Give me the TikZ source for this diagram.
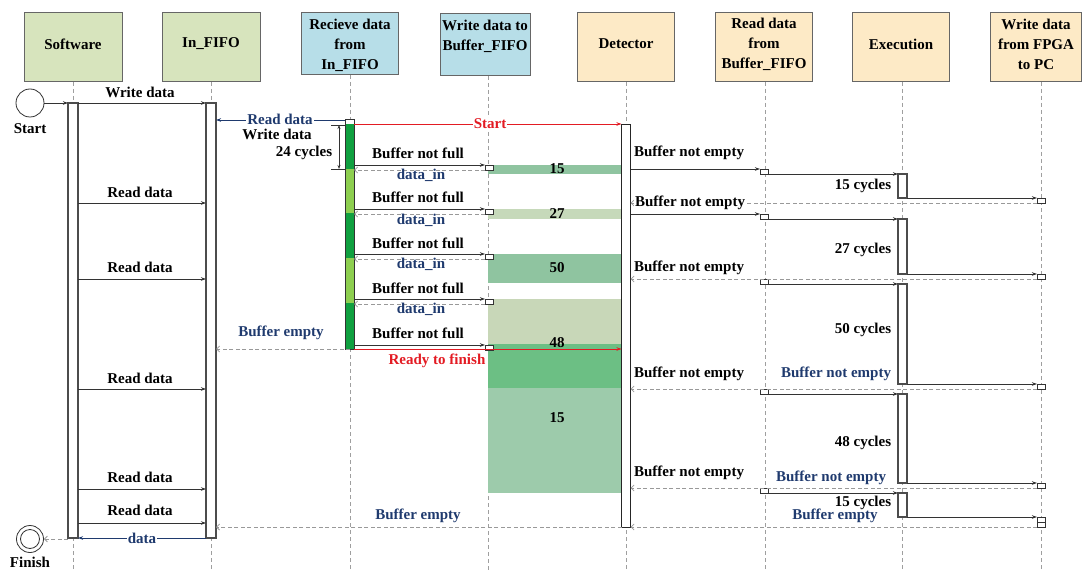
\documentclass[tikz,border=0pt]{standalone}
\usepackage{fontspec}
\setmainfont{Liberation Serif}
\usetikzlibrary{arrows.meta}
\definecolor{hgreen}{HTML}{D7E4BD}
\definecolor{hblue}{HTML}{B7DEE8}
\definecolor{htan}{HTML}{FDEAC6}
\definecolor{navy}{HTML}{1F3A6E}
\definecolor{sred}{HTML}{E31B23}
\definecolor{gdark}{HTML}{10A040}
\definecolor{glight}{HTML}{8ECF50}
\definecolor{bandA}{HTML}{8FC4A0}
\definecolor{bandB}{HTML}{C6D9BA}
\definecolor{bandC}{HTML}{C8D7B8}
\definecolor{bandD}{HTML}{6CBF84}
\definecolor{bandE}{HTML}{9DCBAB}
\begin{document}
\begin{tikzpicture}[x=1pt,y=-1pt,
  every node/.style={font=\fontsize{15}{20}\selectfont\bfseries},
  hdr/.style={draw=black!60, line width=1pt, inner sep=0pt, outer sep=0pt},
  htxt/.style={align=center, inner sep=0pt},
  life/.style={draw=gray!75, line width=0.7pt, dash pattern=on 4pt off 3pt},
  bar/.style={draw=gray!60!black, line width=1.1pt, fill=white, inner sep=0pt, outer sep=0pt, minimum width=9pt},
  msg/.style={draw=black!80, line width=0.8pt, -{Stealth[length=5pt,width=3.5pt]}},
  ret/.style={draw=gray!80, line width=0.8pt, dash pattern=on 4pt off 2.5pt, -{Straight Barb[length=3pt,width=6pt]}},
  lbl/.style={fill=white, inner sep=1pt},
  txt/.style={inner sep=1pt},
  sq/.style={draw=black!80, fill=white, line width=0.7pt, minimum width=8pt, minimum height=5pt, inner sep=0pt, outer sep=0pt},
]
\useasboundingbox (0,0) rectangle (1083,572);

% ---------- headers ----------
\node[hdr, fill=hgreen, minimum width=98pt, minimum height=69pt] (hSW) at (73,47.5) {};
\node[htxt] at (73,44) {Software};
\node[hdr, fill=hgreen, minimum width=98pt, minimum height=69pt] (hIF) at (211,47.5) {};
\node[htxt] at (211,44) {In\_FIFO};
\node[hdr, fill=hblue, minimum width=97pt, minimum height=62pt] (hRD) at (350,44) {};
\node[htxt] at (350,45) {Recieve data\\from\\In\_FIFO};
\node[hdr, fill=hblue, minimum width=90pt, minimum height=62pt] (hWB) at (485,45) {};
\node[htxt] at (485,36) {Write data to\\Buffer\_FIFO};
\node[hdr, fill=htan, minimum width=97pt, minimum height=69pt] (hDT) at (626,47.5) {};
\node[htxt] at (626,44) {Detector};
\node[hdr, fill=htan, minimum width=97pt, minimum height=69pt] (hRB) at (764,47.5) {};
\node[htxt] at (764,44) {Read data\\from\\Buffer\_FIFO};
\node[hdr, fill=htan, minimum width=97pt, minimum height=69pt] (hEX) at (901,47.5) {};
\node[htxt] at (901,44) {Execution};
\node[hdr, fill=htan, minimum width=91pt, minimum height=69pt] (hPC) at (1036,47.5) {};
\node[htxt] at (1036,44) {Write data\\from FPGA\\to PC};

% ---------- lifelines ----------
\coordinate (lSW) at (73,0);
\coordinate (lIF) at (211,0);
\coordinate (lRD) at (350,0);
\coordinate (lWB) at (488,0);
\coordinate (lDT) at (626,0);
\coordinate (lRB) at (765,0);
\coordinate (lEX) at (902,0);
\coordinate (lPC) at (1041,0);
\foreach \h/\l in {hSW/lSW,hIF/lIF,hRD/lRD,hWB/lWB,hDT/lDT,hRB/lRB,hEX/lEX,hPC/lPC}
  \draw[life] (\h.south -| \l) -- (\l |- 0,572);

% ---------- buffer bands ----------
\fill[bandA] (488,165) rectangle (622,174);
\fill[bandB] (488,209) rectangle (622,219);
\fill[bandA] (488,254) rectangle (622,283);
\fill[bandC] (488,299) rectangle (622,344);
\fill[bandD] (488,344) rectangle (622,388);
\fill[bandE] (488,388) rectangle (622,493);
\node[txt] at (557,169) {15};
\node[txt] at (557,214) {27};
\node[txt] at (557,268) {50};
\node[txt] at (557,343) {48};
\node[txt] at (557,418) {15};

% ---------- activation bars ----------
\node[bar, minimum width=10pt, minimum height=435pt, anchor=north] (bSW) at (73,103) {};
\node[bar, minimum width=10pt, minimum height=435pt, anchor=north] (bIF) at (211,103) {};
\node[bar, draw=black!85, line width=0.7pt, minimum height=403pt, anchor=north] (bDT) at (626,124) {};
\node[bar, draw=black!80, line width=0.7pt, minimum height=230pt, anchor=north] (bRD) at (349.5,119) {};
\fill[gdark]  (345.4,124) rectangle (353.6,169);
\fill[glight] (345.4,169) rectangle (353.6,213);
\fill[gdark]  (345.4,213) rectangle (353.6,258);
\fill[glight] (345.4,258) rectangle (353.6,303);
\fill[gdark]  (345.4,303) rectangle (353.6,349);
\draw[black!80, line width=0.7pt] (bRD.north west) rectangle (bRD.south east);
\node[bar, anchor=north, minimum height=24pt] (bE1) at (902.5,174) {};
\node[bar, anchor=north, minimum height=55pt] (bE2) at (902.5,219) {};
\node[bar, anchor=north, minimum height=100pt] (bE3) at (902.5,284) {};
\node[bar, anchor=north, minimum height=89pt] (bE4) at (902.5,394) {};
\node[bar, anchor=north, minimum height=24pt] (bE5) at (902.5,493) {};

% ---------- start / finish ----------
\node[circle, draw=black!80, line width=0.8pt, minimum size=28pt, inner sep=0pt] (start) at (30,103) {};
\node[txt] at (30,129) {Start};
\node[circle, draw=black!80, line width=0.8pt, minimum size=27pt, inner sep=0pt] (finish) at (30,539) {};
\draw[black!80, line width=0.8pt] (finish.center) circle[radius=9.5];
\node[txt] at (30,562) {Finish};

% ---------- Software / In_FIFO ----------
\draw[msg] (start.east) -- (bSW.west |- start.east);
\draw[msg] (bSW.east |- 0,103) -- (bIF.west |- 0,103);
\node[txt] at (140,92) {Write data};
\foreach \y/\ly in {203/192,279/267,389/378,489/477,523/510}{
  \draw[msg] (bSW.east |- 0,\y) -- (bIF.west |- 0,\y);
  \node[txt] at (140,\ly) {Read data};
}
\draw[msg, draw=navy] (bIF.west |- 0,538) -- (bSW.east |- 0,538);
\node[lbl, text=navy] at (142,538) {data};
\draw[ret] (bSW.west |- finish.east) -- (finish.east);

% ---------- In_FIFO / Recieve ----------
\draw[msg, draw=navy] (bRD.west |- 0,120) -- (bIF.east |- 0,120);
\node[lbl, text=navy] at (280,119) {Read data};
\node[txt] at (277,134) {Write data};
\coordinate (d1) at (339,125);
\coordinate (d2) at (339,169);
\draw[black!80, line width=0.6pt] (331,125) -- (bRD.west |- d1);
\draw[black!80, line width=0.6pt] (331,169) -- (bRD.west |- d2);
\draw[black!80, line width=0.6pt, {Stealth[length=4pt,width=3pt]}-{Stealth[length=4pt,width=3pt]}] (d1) -- (d2);
\node[txt] at (304,153) {24 cycles};
\draw[ret] (lRD |- 0,349) -- (bIF.east |- 0,349);
\node[txt, text=navy] at (281,333) {Buffer empty};

% ---------- Recieve / Write buffer ----------
\foreach \i/\y/\ly in {1/165/153,2/209/197,3/254/243,4/299/288,5/345/333}{
  \node[sq, anchor=north west] (sW\i) at (485,\y) {};
  \draw[msg] (bRD.east |- sW\i.north west) -- (sW\i.north west);
  \node[txt] at (418,\ly) {Buffer not full};
}
\foreach \i/\ly in {1/175,2/220,3/264,4/309}{
  \draw[ret] (sW\i.south west) -- (bRD.east |- sW\i.south west);
  \node[txt, text=navy] at (421,\ly) {data\_in};
}

% ---------- Start / Ready to finish ----------
\draw[msg, draw=sred] (bRD.east |- bDT.north) -- (bDT.north west);
\node[lbl, text=sred, inner sep=0.5pt] at (490,124) {Start};
\draw[msg, draw=sred] (bRD.south east) -- (bDT.west |- bRD.south east);
\node[txt, text=sred] at (437,361) {Ready to finish};

% ---------- Detector / Read buffer / Execution / PC ----------
\node[sq, anchor=north west] (sR1) at (760,169) {};
\node[sq, anchor=north west] (sR2) at (760,214) {};
\node[sq, anchor=north west] (sR3) at (760,279) {};
\node[sq, anchor=north west] (sR4) at (760,389) {};
\node[sq, anchor=north west] (sR5) at (760,488) {};
\node[sq, anchor=north west] (sP1) at (1037,198) {};
\node[sq, anchor=north west] (sP2) at (1037,274) {};
\node[sq, anchor=north west] (sP3) at (1037,384) {};
\node[sq, anchor=north west] (sP4) at (1037,483) {};
\node[sq, anchor=north west] (sP5) at (1037,517) {};
\node[sq, anchor=north west] (sP6) at (1037,522) {};

\foreach \i in {1,...,5}{
  \draw[msg] (sR\i.south east) -- (bE\i.north west);
  \draw[msg] (bE\i.south east) -- (sP\i.north west);
}
\draw[msg] (bDT.east |- sR1.north west) -- (sR1.north west);
\draw[msg] (bDT.east |- sR2.north west) -- (sR2.north west);
\draw[ret] (sP1.south west) -- (bDT.east |- sP1.south west);
\draw[ret] (sP2.south west) -- (bDT.east |- sP2.south west);
\draw[ret] (sP3.south west) -- (bDT.east |- sP3.south west);
\draw[ret] (sP4.south west) -- (bDT.east |- sP4.south west);
\draw[ret] (sP6.south west) -- (bDT.east |- sP6.south west);
\draw[ret] (bDT.south west) -- (bIF.east |- bDT.south west);

\node[txt] at (689,153) {Buffer not empty};
\node[lbl] at (690,203) {Buffer not empty};
\node[txt] at (689,268) {Buffer not empty};
\node[txt] at (689,374) {Buffer not empty};
\node[txt] at (689,473) {Buffer not empty};
\node[txt, text=navy] at (836,374) {Buffer not empty};
\node[txt, text=navy] at (831,478) {Buffer not empty};
\node[txt] at (863,186) {15 cycles};
\node[txt] at (863,250) {27 cycles};
\node[txt] at (863,330) {50 cycles};
\node[txt] at (863,443) {48 cycles};
\node[txt] at (863,503) {15 cycles};
\node[txt, text=navy] at (835,516) {Buffer empty};
\node[txt, text=navy] at (418,516) {Buffer empty};
\end{tikzpicture}
\end{document}
